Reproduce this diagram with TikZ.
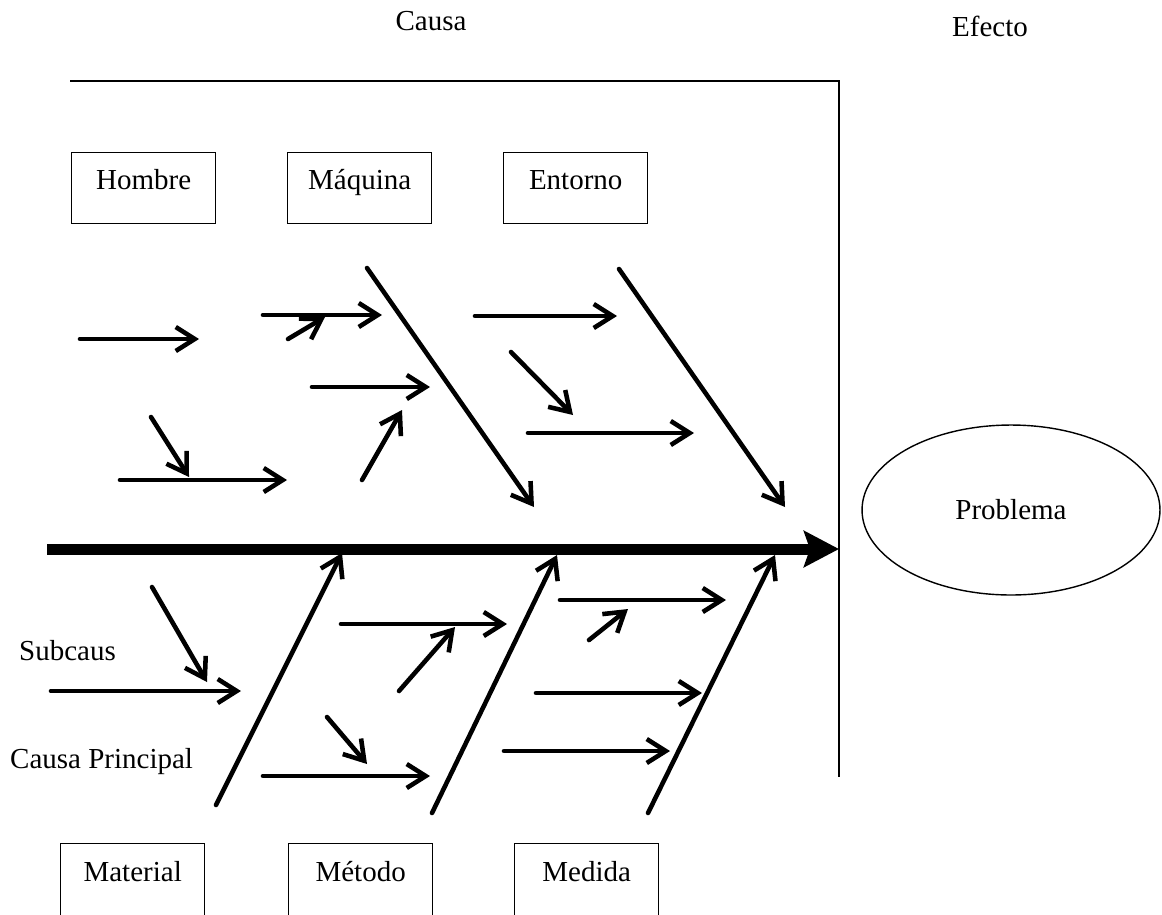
\documentclass[tikz,border=0pt]{standalone}
\usepackage{fontspec}
\setmainfont{Liberation Serif}
\usetikzlibrary{arrows.meta,shapes.geometric}
\tikzset{px/.style={x={(0.02cm,0cm)},y={(0cm,-0.02cm)}}}
\tikzset{caja/.style={draw, line width=0.8pt, minimum width=2.88cm, minimum height=1.42cm, anchor=north west}}
\tikzset{flecha/.style={line width=2.6pt, line cap=round, -{Straight Barb[length=0.38cm,width=0.48cm]}}}
\tikzset{espina/.style={line width=0.22cm, -{Stealth[length=0.7cm,width=0.72cm,inset=0.12cm]}}}

\begin{document}
\begin{tikzpicture}[px, font=\fontsize{16.5}{19}\selectfont]
	\useasboundingbox (0,0) rectangle (1162,914);
	\clip (0,0) rectangle (1162,914);
	\node (causa) at (431,21) {Causa};
	\node (efecto) at (990,26) {Efecto};
	\coordinate (l0) at (70,81);
	\coordinate (l1) at (839,81);
	\coordinate (l2) at (839,777);
	\draw[line width=0.6pt] (l0) -- (l1) -- (l2);
	\node[caja, label={[anchor=base,yshift=-0.74cm]north:Hombre}] (hombre) at (71,152) {};
	\node[caja, label={[anchor=base,yshift=-0.74cm]north:Máquina}] (maquina) at (287,152) {};
	\node[caja, label={[anchor=base,yshift=-0.74cm]north:Entorno}] (entorno) at (503,152) {};
	\node[caja, minimum height=2cm, label={[anchor=base,yshift=-0.76cm]north:Material}] (material) at (60,843) {};
	\node[caja, minimum height=2cm, label={[anchor=base,yshift=-0.76cm]north:Método}] (metodo) at (288,843) {};
	\node[caja, minimum height=2cm, label={[anchor=base,yshift=-0.76cm]north:Medida}] (medida) at (514,843) {};
	\node[draw, ellipse, line width=0.8pt, minimum width=5.96cm, minimum height=3.4cm] (problema) at (1011,510) {Problema};
	\node[anchor=west] (subcaus) at (13,651) {Subcaus};
	\node[anchor=west] (principal) at (4,762) {Causa Principal};
	% espina
	\coordinate (e0) at (47,549);
	\coordinate (e1) at (839,549);
	\draw[espina] (e0) -- (e1);
	% causas principales
	\coordinate (b1) at (367,268);  \coordinate (c1) at (534,507);
	\coordinate (b2) at (619,269);  \coordinate (c2) at (785,507);
	\coordinate (b3) at (216,805);  \coordinate (c3) at (342,553);
	\coordinate (b4) at (432,813);  \coordinate (c4) at (557,555);
	\coordinate (b5) at (648,813);  \coordinate (c5) at (775,555);
	\path[flecha] (b1) edge (c1) (b2) edge (c2) (b3) edge (c3) (b4) edge (c4) (b5) edge (c5);
	% subcausas arriba
	\coordinate (p1) at (80,339);   \coordinate (q1) at (199,339);
	\coordinate (p2) at (263,315);  \coordinate (q2) at (382,315);
	\coordinate (p3) at (288,339);  \coordinate (q3) at (325,317);
	\coordinate (p4) at (312,387);  \coordinate (q4) at (430,387);
	\coordinate (p5) at (362,480);  \coordinate (q5) at (402,410);
	\coordinate (p6) at (151,417);  \coordinate (q6) at (189,477);
	\coordinate (p7) at (120,480);  \coordinate (q7) at (287,480);
	\coordinate (p8) at (475,316);  \coordinate (q8) at (617,316);
	\coordinate (p9) at (511,352);  \coordinate (q9) at (573,415);
	\coordinate (p10) at (528,433); \coordinate (q10) at (694,433);
	\path[flecha] (p1) edge (q1) (p2) edge (q2) (p3) edge (q3) (p4) edge (q4) (p5) edge (q5)
		(p6) edge (q6) (p7) edge (q7) (p8) edge (q8) (p9) edge (q9) (p10) edge (q10);
	% subcausas abajo
	\coordinate (u1) at (51,691);   \coordinate (v1) at (241,691);
	\coordinate (u2) at (152,587);  \coordinate (v2) at (207,682);
	\coordinate (u3) at (341,624);  \coordinate (v3) at (507,624);
	\coordinate (u4) at (399,691);  \coordinate (v4) at (455,627);
	\coordinate (u5) at (263,776);  \coordinate (v5) at (430,776);
	\coordinate (u6) at (327,717);  \coordinate (v6) at (367,764);
	\coordinate (u7) at (560,600);  \coordinate (v7) at (726,600);
	\coordinate (u8) at (589,640);  \coordinate (v8) at (628,609);
	\coordinate (u9) at (536,693);  \coordinate (v9) at (702,693);
	\coordinate (u10) at (504,751); \coordinate (v10) at (670,751);
	\path[flecha] (u1) edge (v1) (u2) edge (v2) (u3) edge (v3) (u4) edge (v4) (u5) edge (v5)
		(u6) edge (v6) (u7) edge (v7) (u8) edge (v8) (u9) edge (v9) (u10) edge (v10);
\end{tikzpicture}
\end{document}
